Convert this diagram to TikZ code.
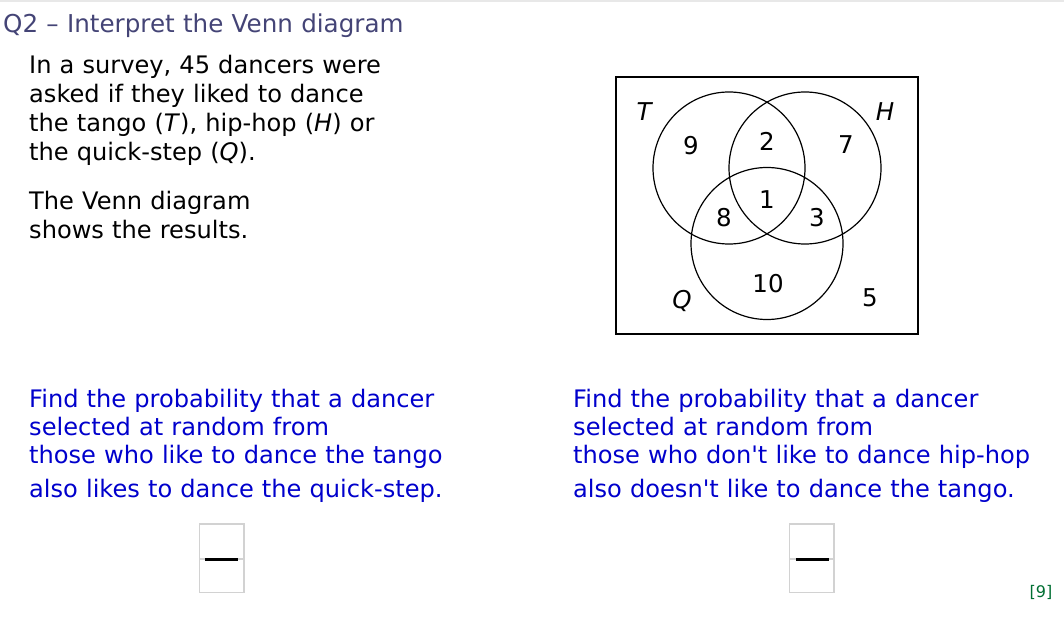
\documentclass[tikz,border=0pt]{standalone}
\usepackage{fontspec}
\setmainfont{DejaVu Sans}[Ligatures=TeXOff,WordSpace=1.06]
\definecolor{titlecol}{RGB}{68,68,118}
\definecolor{qblue}{RGB}{0,0,204}
\definecolor{markgreen}{RGB}{0,110,50}
\definecolor{topbar}{RGB}{232,232,232}
\definecolor{boxgray}{RGB}{210,210,210}
\begin{document}
\begin{tikzpicture}[x=1pt,y=-1pt,
  txt/.style={anchor=base west,inner sep=0pt,font=\fontsize{24.1}{29}\selectfont},
  num/.style={inner sep=0pt,font=\fontsize{24.5}{29}\selectfont},
  venncircle/.style={draw=black,line width=1.2pt},
  ansbox/.style={draw=boxgray,line width=1.6pt},
  bar/.style={draw=black,line width=3pt}]
\useasboundingbox (0,0) rectangle (1064,617);
\fill[topbar] (0,0) rectangle (1064,2.5);
% title
\node[txt,text=titlecol,font=\fontsize{24.6}{29}\selectfont] (title) at (3,33) {Q2 – Interpret the Venn diagram};
% intro text
\node[txt] (l1) at (29,74) {In a survey, 45 dancers were};
\node[txt] (l2) at (29,103) {asked if they liked to dance};
\node[txt] (l3) at (29,132) {the tango (\textit{T}), hip-hop (\textit{H}) or};
\node[txt] (l4) at (29,161) {the quick-step (\textit{Q}).};
\node[txt] (l5) at (29,210) {The Venn diagram};
\node[txt] (l6) at (29,239) {shows the results.};
% Venn diagram
\draw[line width=1.5pt] (616,77) rectangle (918,334);
\node[venncircle,circle,minimum size=152pt,inner sep=0pt] (T) at (729,168) {};
\node[venncircle,circle,minimum size=152pt,inner sep=0pt] (H) at (805,168) {};
\node[venncircle,circle,minimum size=152pt,inner sep=0pt] (Q) at (767,243.5) {};
\node[num] (lT) at (645,112) {\textit{T}};
\node[num] (lH) at (885,112) {\textit{H}};
\node[num] (lQ) at (682,301) {\textit{Q}};
\node[num] (n9) at (691,146) {9};
\node[num] (n2) at (767,141) {2};
\node[num] (n7) at (846,145) {7};
\node[num] (n1) at (767,200) {1};
\node[num] (n8) at (724,218) {8};
\node[num] (n3) at (817,218) {3};
\node[num] (n10) at (768,284) {10};
\node[num] (n5) at (870,298) {5};
% questions
\node[txt,text=qblue] (qa1) at (29,407) {Find the probability that a dancer};
\node[txt,text=qblue] (qa2) at (29,435) {selected at random from};
\node[txt,text=qblue] (qa3) at (29,463.5) {those who like to dance the tango};
\node[txt,text=qblue] (qa4) at (29,497) {also likes to dance the quick-step.};
\node[txt,text=qblue] (qb1) at (573,407) {Find the probability that a dancer};
\node[txt,text=qblue] (qb2) at (573,435) {selected at random from};
\node[txt,text=qblue] (qb3) at (573,463.5) {those who don't like to dance hip-hop};
\node[txt,text=qblue] (qb4) at (573,497) {also doesn't like to dance the tango.};
% answer boxes
\draw[ansbox] (199.5,524) rectangle (244,559);
\draw[ansbox] (199.5,559) rectangle (244,592.5);
\draw[bar] (205,559) -- (237.5,559);
\draw[ansbox] (789.5,524) rectangle (834,559);
\draw[ansbox] (789.5,559) rectangle (834,592.5);
\draw[bar] (796,559) -- (828.5,559);
% marks
\node[inner sep=0pt,text=markgreen,font=\fontsize{16}{19}\selectfont] (marks) at (1041,592) {[9]};
\end{tikzpicture}
\end{document}
